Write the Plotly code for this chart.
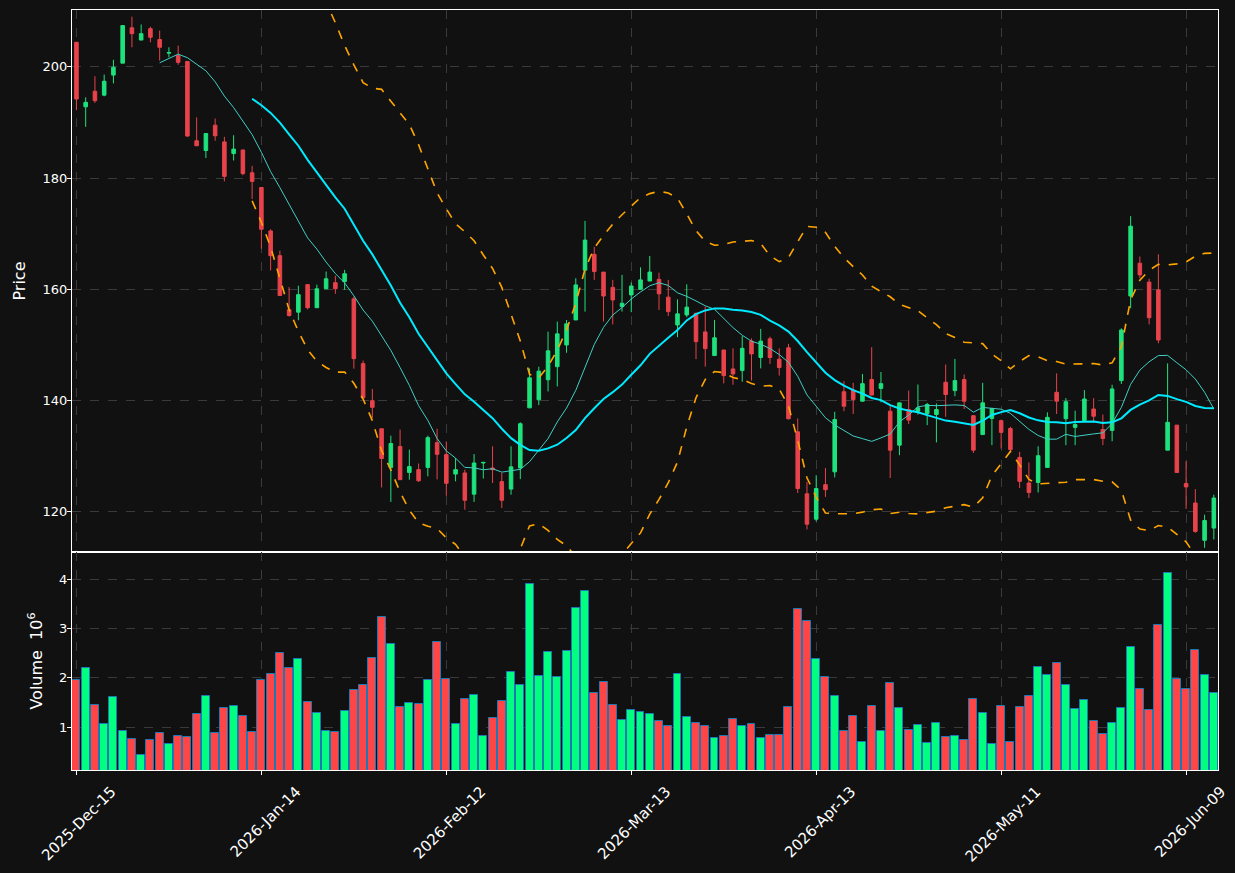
import pandas as pd
import plotly.graph_objects as go

# ---------------- data ----------------
holidays = ["2025-12-25", "2026-01-01", "2026-01-19", "2026-02-16", "2026-04-03", "2026-05-25"]
dates = [d for d in pd.bdate_range("2025-12-15", "2026-06-12") if d.strftime("%Y-%m-%d") not in holidays]
date_labels = [d.strftime("%Y-%m-%d") for d in dates]

open_ = [204.4, 192.8, 195.6, 194.9, 198.5, 200.65, 207.0, 204.8, 206.85, 204.9,
         202.45, 202.0, 200.95, 186.7, 184.95, 189.5, 186.5, 184.4, 185.05, 180.95,
         178.3, 170.5, 166.05, 156.35, 155.9, 160.85, 156.7, 160.1, 161.2, 161.4,
         158.3, 146.65, 140.0, 134.95, 128.0, 131.75, 127.1, 127.6, 128.0, 132.45,
         130.3, 126.8, 127.0, 123.2, 128.8, 127.9, 125.45, 124.1, 127.9, 138.7,
         140.15, 143.75, 146.1, 150.0, 154.5, 163.45, 166.3, 163.1, 160.35, 156.9,
         159.0, 160.0, 161.5, 161.8, 158.6, 153.6, 155.4, 155.7, 152.35, 148.1,
         149.1, 145.7, 145.4, 150.7, 147.75, 151.1, 147.45, 149.5, 134.4, 123.25,
         118.7, 124.9, 127.2, 141.6, 141.9, 139.9, 143.8, 142.2, 138.1, 132.0,
         138.4, 138.1, 137.7, 137.5, 143.3, 141.8, 143.8, 137.3, 133.9, 136.8,
         136.4, 135.0, 129.8, 125.2, 125.3, 128.0, 141.5, 136.75, 135.2, 136.4,
         138.5, 134.8, 134.65, 143.6, 158.8, 164.7, 161.3, 159.9, 131.1, 135.6,
         125.1, 121.6, 114.9, 117.1]
high = [204.4, 194.5, 198.3, 198.6, 201.25, 207.4, 209.0, 207.6, 207.2, 206.5,
        203.5, 203.8, 200.95, 190.9, 188.0, 190.7, 187.4, 187.7, 185.05, 182.2,
        178.3, 170.8, 166.95, 160.4, 160.65, 160.85, 160.85, 163.2, 162.45, 163.5,
        158.7, 147.2, 142.1, 134.95, 133.7, 134.8, 131.2, 128.7, 133.7, 134.95,
        132.65, 129.7, 127.6, 130.4, 129.0, 131.8, 127.0, 131.8, 136.1, 145.8,
        146.1, 152.4, 154.2, 154.5, 162.0, 172.3, 167.65, 163.1, 161.7, 162.6,
        161.25, 163.95, 166.0, 163.0, 161.7, 158.2, 160.9, 155.7, 156.9, 154.5,
        149.1, 149.4, 151.6, 151.2, 152.9, 151.5, 149.4, 150.2, 136.8, 125.4,
        126.6, 127.9, 138.0, 143.5, 143.2, 144.8, 149.6, 145.15, 139.0, 139.6,
        141.8, 142.9, 139.6, 139.5, 146.5, 147.5, 144.7, 137.3, 143.2, 138.6,
        136.6, 135.3, 130.8, 128.9, 131.8, 137.9, 144.9, 140.45, 138.2, 141.9,
        140.45, 137.5, 142.85, 153.0, 173.15, 165.9, 161.9, 166.3, 146.7, 135.6,
        129.1, 124.1, 119.5, 123.1]
low = [192.2, 189.2, 193.5, 194.7, 197.0, 200.65, 203.5, 204.8, 204.4, 201.1,
       201.7, 200.35, 187.4, 185.8, 183.6, 186.7, 179.4, 183.15, 180.5, 176.25,
       167.3, 163.4, 158.9, 155.1, 154.45, 156.4, 156.7, 160.1, 159.2, 159.9,
       145.75, 140.5, 136.9, 124.4, 121.8, 125.8, 125.8, 125.4, 126.4, 125.85,
       122.9, 125.5, 120.4, 121.8, 126.0, 125.2, 120.7, 123.1, 125.9, 138.7,
       139.2, 141.65, 142.55, 148.6, 154.5, 156.0, 161.7, 154.2, 153.7, 156.0,
       155.9, 160.0, 161.5, 156.3, 155.2, 151.4, 155.0, 147.45, 146.1, 148.1,
       143.1, 142.85, 143.4, 143.6, 145.8, 146.6, 144.5, 136.6, 123.4, 116.85,
       118.3, 122.7, 126.2, 138.1, 137.6, 139.9, 141.0, 139.7, 126.1, 130.2,
       135.8, 137.5, 135.6, 132.5, 137.1, 140.8, 138.5, 130.6, 133.9, 132.0,
       131.4, 130.8, 124.3, 122.5, 123.5, 128.0, 137.6, 132.0, 132.0, 136.4,
       136.0, 132.0, 132.7, 143.0, 156.6, 162.0, 153.7, 150.3, 131.1, 127.0,
       120.55, 116.25, 113.55, 115.05]
close = [194.2, 193.6, 193.9, 197.4, 199.9, 207.4, 205.95, 205.95, 205.3, 203.5,
         202.55, 200.8, 187.55, 185.8, 188.0, 187.6, 180.3, 185.2, 180.8, 179.4,
         170.8, 166.05, 158.9, 155.3, 159.05, 156.7, 160.1, 161.9, 160.1, 162.8,
         147.55, 140.5, 138.8, 129.6, 132.3, 125.8, 128.15, 125.6, 133.35, 130.35,
         125.15, 127.6, 122.1, 128.8, 128.9, 127.6, 122.1, 128.1, 135.85, 144.1,
         145.3, 148.95, 152.0, 153.8, 160.8, 168.85, 163.2, 158.8, 158.1, 157.5,
         160.6, 161.7, 163.1, 159.2, 156.0, 155.6, 156.8, 150.6, 149.35, 151.3,
         144.5, 144.8, 149.4, 148.4, 150.7, 147.75, 145.95, 136.75, 124.2, 117.8,
         124.2, 124.0, 136.6, 139.0, 140.2, 143.05, 141.0, 143.05, 131.1, 139.6,
         136.5, 138.7, 139.3, 138.4, 141.1, 143.6, 139.9, 131.1, 139.6, 138.6,
         134.3, 131.2, 125.5, 123.5, 130.1, 137.0, 139.9, 139.8, 135.7, 140.3,
         137.2, 133.2, 142.1, 152.7, 171.35, 162.6, 154.9, 150.9, 136.1, 127.1,
         124.5, 116.5, 118.45, 122.5]
volume_m = [1.953, 2.196, 1.446, 1.061, 1.608, 0.919, 0.757, 0.432, 0.736, 0.878,
            0.655, 0.818, 0.797, 1.264, 1.628, 0.878, 1.385, 1.426, 1.223, 0.899,
            1.953, 2.074, 2.5, 2.196, 2.378, 1.507, 1.284, 0.919, 0.899, 1.324,
            1.75, 1.851, 2.399, 3.23, 2.682, 1.405, 1.486, 1.466, 1.953, 2.723,
            1.973, 1.061, 1.568, 1.649, 0.818, 1.182, 1.527, 2.115, 1.851, 3.899,
            2.034, 2.52, 2.014, 2.541, 3.412, 3.757, 1.689, 1.912, 1.446, 1.142,
            1.345, 1.304, 1.264, 1.122, 1.02, 2.074, 1.203, 1.081, 1.02, 0.777,
            0.818, 1.162, 1.02, 1.061, 0.777, 0.838, 0.838, 1.405, 3.392, 3.149,
            2.378, 2.014, 1.628, 0.919, 1.236, 0.696, 1.439, 0.919, 1.892, 1.385,
            0.939, 1.041, 0.676, 1.081, 0.797, 0.818, 0.736, 1.568, 1.284, 0.655,
            1.426, 0.696, 1.405, 1.628, 2.216, 2.054, 2.297, 1.851, 1.365, 1.547,
            1.122, 0.858, 1.081, 1.385, 2.622, 1.77, 1.345, 3.068, 4.122, 1.973,
            1.77, 2.561, 2.054, 1.689]

price_ticks = [120, 140, 160, 180, 200]
volume_ticks = [1, 2, 3, 4]
tick_every = 20

# ---------------- derived indicators ----------------
s = pd.Series(close)
ma10 = s.rolling(10).mean()
ma20 = s.rolling(20).mean()
sd20 = s.rolling(20).std(ddof=0)
upper = ma20 + 2 * sd20
lower = ma20 - 2 * sd20

UP_C, DN_C = "#1ee27d", "#e8434b"
VUP_C, VDN_C = "#00ff80", "#ff4545"
vol_colors = [VUP_C if c >= o else VDN_C for o, c in zip(open_, close)]

tickvals = date_labels[::tick_every]
ticktext = [d.strftime("%Y-%b-%d") for d in dates[::tick_every]]

fig = go.Figure()
fig.add_trace(go.Candlestick(
    x=date_labels, open=open_, high=high, low=low, close=close,
    increasing=dict(line=dict(color=UP_C, width=1), fillcolor=UP_C),
    decreasing=dict(line=dict(color=DN_C, width=1), fillcolor=DN_C),
    whiskerwidth=0, xaxis="x", yaxis="y", showlegend=False, name="OHLC"))
fig.add_trace(go.Scatter(x=date_labels, y=ma10, mode="lines",
                         line=dict(color="#40cfc4", width=1), xaxis="x", yaxis="y", showlegend=False))
fig.add_trace(go.Scatter(x=date_labels, y=ma20, mode="lines",
                         line=dict(color="#00eaff", width=2), xaxis="x", yaxis="y", showlegend=False))
for band in (upper, lower):
    fig.add_trace(go.Scatter(x=date_labels, y=band, mode="lines",
                             line=dict(color="#ffa500", width=1.6, dash="dash"),
                             xaxis="x", yaxis="y", showlegend=False))
fig.add_trace(go.Bar(x=date_labels, y=volume_m, marker=dict(color=vol_colors, line=dict(color="#1f77b4", width=1)),
                     width=0.86, xaxis="x2", yaxis="y2", showlegend=False))

split = 218 / 760
grid = dict(showgrid=True, gridcolor="#3a3a3a", griddash="dash", gridwidth=1)
frame = dict(showline=True, mirror=True, linecolor="white", linewidth=1, zeroline=False, automargin=False)
xr = [-0.48, 123.45]

fig.update_layout(
    width=1235, height=873,
    margin=dict(l=72, r=17, t=10, b=103),
    paper_bgcolor="#111111", plot_bgcolor="#111111",
    font=dict(family="DejaVu Sans", size=13, color="white"),
    boxgap=0.45,
    xaxis=dict(domain=[0, 1], anchor="y", type="category", range=xr, rangeslider=dict(visible=False),
               tickmode="array", tickvals=tickvals, showticklabels=False, ticks="", **grid, **frame),
    xaxis2=dict(domain=[0, 1], anchor="y2", type="category", range=xr, matches="x",
                tickmode="array", tickvals=tickvals, ticktext=ticktext, tickangle=-45,
                tickfont=dict(size=15), ticklabelshift=35, ticklabelstandoff=2,
                ticks="outside", ticklen=4, tickcolor="white", **grid, **frame),
    yaxis=dict(domain=[split, 1], range=[112.8, 210.2], tickmode="array", tickvals=price_ticks,
               ticks="outside", ticklen=4, tickcolor="white", ticklabelstandoff=-3,
               title=dict(text="Price", standoff=12), **grid, **frame),
    yaxis2=dict(domain=[0, split], range=[0.134, 4.55], tickmode="array", tickvals=volume_ticks,
                ticks="outside", ticklen=4, tickcolor="white", ticklabelstandoff=-3,
                title=dict(text="Volume  10<sup>6</sup>", standoff=12), **grid, **frame),
    bargap=0,
)

fig.write_html("out.html")
